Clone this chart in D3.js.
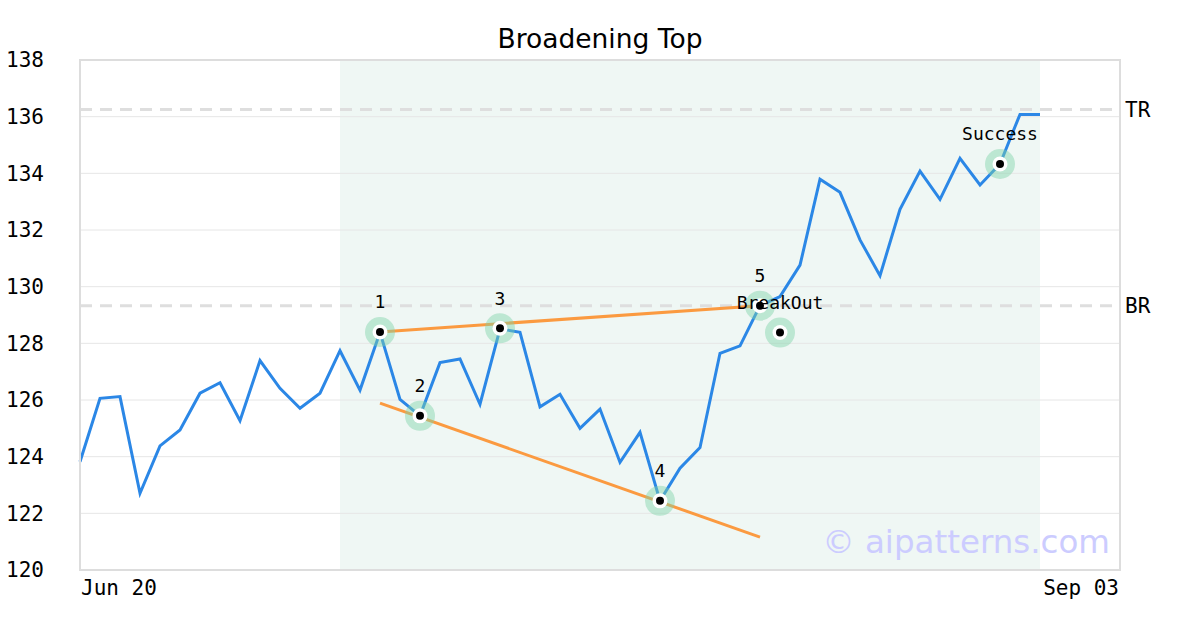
<!DOCTYPE html>
<html><head><meta charset="utf-8">
<script src="https://cdnjs.cloudflare.com/ajax/libs/d3/7.8.5/d3.min.js"></script>
<style>body{margin:0;background:#fff}svg{display:block}</style>
</head><body><svg id="c" width="1200" height="630"></svg>
<script>
const prices = [123.82,126.06,126.12,122.71,124.38,124.94,126.24,126.61,125.27,127.39,126.41,125.71,126.24,127.74,126.35,128.39,126.02,125.44,127.32,127.45,125.85,128.51,128.39,125.76,126.2,125.0,125.68,123.8,124.86,122.44,123.59,124.32,127.65,127.91,129.33,129.65,130.76,133.79,133.33,131.65,130.39,132.73,134.08,133.08,134.53,133.59,134.33,136.08,136.08];
const xTickLabels = ["Jun 20","Sep 03"];
const yTicks = [120,122,124,126,128,130,132,134,136,138];
const markerIdx = [15,17,21,29,34,35,46];
const markerVal = [128.4,125.44,128.53,122.44,129.33,128.38,134.33];
const markerLabels = ["1","2","3","4","5","BreakOut","Success"];
const upperTrend = [[15,128.4],[34,129.33]];
const lowerTrend = [[15,125.89],[34,121.16]];
const levels = [{name:"TR",value:136.25},{name:"BR",value:129.33}];
const shade = [13,48];
const title = "Broadening Top";
const watermark = "© aipatterns.com";

const svg = d3.select("#c");
const L=80,R=1120,T=60,B=570;
const x = d3.scaleLinear().domain([0,52]).range([L,R]);
const y = d3.scaleLinear().domain([120,138]).range([B,T]);
const mono = "'DejaVu Sans Mono', monospace";

svg.append("text").attr("x",600).attr("y",48).attr("text-anchor","middle")
  .attr("font-family","'DejaVu Sans', sans-serif").attr("font-size",26.5).attr("fill","#000").text(title);

// shade
svg.append("rect").attr("x",x(shade[0])).attr("y",T).attr("width",x(shade[1])-x(shade[0])).attr("height",B-T).attr("fill","#eff7f4");

// grid
svg.append("g").selectAll("line").data(yTicks.slice(1,-1)).join("line")
  .attr("x1",L).attr("x2",R).attr("y1",d=>y(d)).attr("y2",d=>y(d)).attr("stroke","#e6e6e6").attr("stroke-width",1);

// y axis labels
const yAxis = d3.axisLeft(y).tickValues(yTicks).tickSize(0).tickPadding(0).tickFormat(d3.format("d"));
const gy = svg.append("g").attr("transform",`translate(44,0)`).call(yAxis);
gy.select(".domain").remove();
gy.selectAll("text").attr("font-family",mono).attr("font-size",21).attr("fill","#000");

// x labels
svg.append("text").attr("x",L+1).attr("y",595).attr("font-family",mono).attr("font-size",21).text(xTickLabels[0]);
svg.append("text").attr("x",R-1).attr("y",595).attr("text-anchor","end").attr("font-family",mono).attr("font-size",21).text(xTickLabels[1]);

// levels
levels.forEach(l=>{
  svg.append("line").attr("x1",L).attr("x2",R).attr("y1",y(l.value)).attr("y2",y(l.value))
    .attr("stroke","#dedede").attr("stroke-width",3).attr("stroke-dasharray","12,8");
  svg.append("text").attr("x",R+5).attr("y",y(l.value)).attr("dy","0.35em")
    .attr("font-family",mono).attr("font-size",21).text(l.name);
});

// price line
const line = d3.line().x((d,i)=>x(i)).y(d=>y(d));
svg.append("path").datum(prices).attr("d",line).attr("fill","none").attr("stroke","#2b87e6").attr("stroke-width",3).attr("stroke-linejoin","miter");

// trend lines
[upperTrend,lowerTrend].forEach(t=>{
  svg.append("line").attr("x1",x(t[0][0])).attr("y1",y(t[0][1])).attr("x2",x(t[1][0])).attr("y2",y(t[1][1]))
    .attr("stroke","#fb9a40").attr("stroke-width",3);
});

// markers
const mg = svg.append("g");
markerIdx.forEach((idx,i)=>{
  const cx=x(idx), cy=y(markerVal[i]);
  mg.append("circle").attr("cx",cx).attr("cy",cy).attr("r",15).attr("fill","#7fd3a8").attr("opacity",0.45);
  mg.append("circle").attr("cx",cx).attr("cy",cy).attr("r",7.5).attr("fill","#fff");
  mg.append("circle").attr("cx",cx).attr("cy",cy).attr("r",4).attr("fill","#000");
  mg.append("text").attr("x",cx).attr("y",cy-30).attr("dy","0.35em").attr("text-anchor","middle")
    .attr("font-family",mono).attr("font-size",18).attr("fill","#000").text(markerLabels[i]);
});

// frame
svg.append("rect").attr("x",L).attr("y",T).attr("width",R-L).attr("height",B-T).attr("fill","none").attr("stroke","#dddddd").attr("stroke-width",2);

// watermark
svg.append("text").attr("x",1110).attr("y",553).attr("text-anchor","end").attr("font-family","'DejaVu Sans', sans-serif")
  .attr("font-size",32.5).attr("fill","#ccccff").text(watermark);
</script></body></html>
